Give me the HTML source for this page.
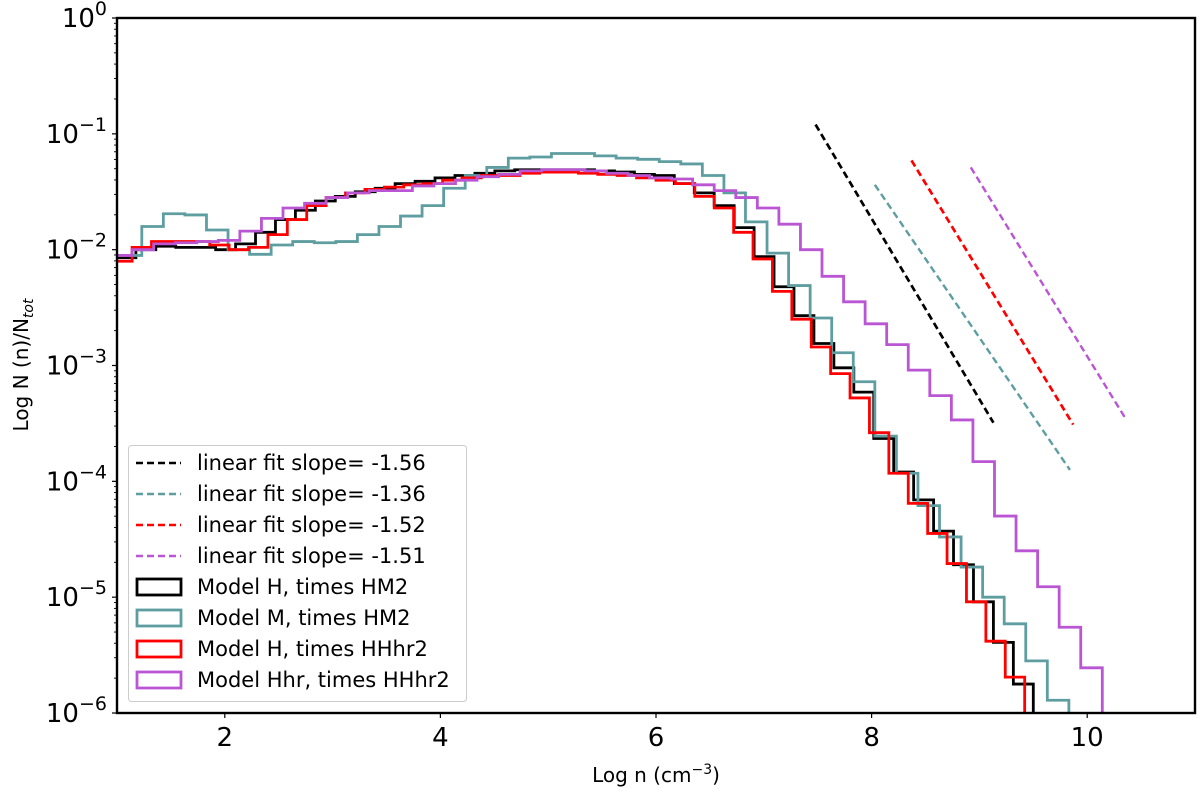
<!DOCTYPE html>
<html><head><meta charset="utf-8"><style>
html,body{margin:0;padding:0;background:#fff;}
svg{display:block;font-family:"DejaVu Sans","Liberation Sans",sans-serif;}
</style></head><body>
<svg id="chart" width="1200" height="789" viewBox="0 0 1200 789" xmlns="http://www.w3.org/2000/svg">
<defs><clipPath id="plotclip"><rect x="117" y="18" width="1078" height="695"/></clipPath></defs>
<rect width="1200" height="789" fill="#fff"/>
<g id="series" clip-path="url(#plotclip)"></g>
<g id="axes"></g>
<g id="legend"></g>
<text x="656" y="782" font-size="20" text-anchor="middle">Log n (cm<tspan dy="-8" font-size="14">−3</tspan><tspan dy="8">)</tspan></text>
<text transform="translate(28,365) rotate(-90)" font-size="20" text-anchor="middle">Log N (n)/N<tspan dy="5" font-size="14" font-style="italic">tot</tspan></text>
</svg>
<script>
// ---- data (log10 of N(n)/Ntot per bin) ----
const seriesNames = ["Model H, times HM2","Model M, times HM2","Model H, times HHhr2","Model Hhr, times HHhr2"];
const seriesColors = ["#000000","#5f9ea0","#ff0000","#ba55d3"];
const binStart = [0.99, 0.83, 0.96, 0.94];
const binWidth = [0.185, 0.2, 0.18, 0.2];
const logBlack = [-2.07,-2.00,-1.97,-1.98,-1.98,-2.00,-1.95,-1.85,-1.74,-1.66,-1.58,-1.54,-1.50,-1.47,-1.43,-1.41,-1.38,-1.36,-1.34,-1.32,-1.31,-1.31,-1.31,-1.31,-1.32,-1.33,-1.35,-1.36,-1.43,-1.51,-1.62,-1.81,-2.06,-2.32,-2.57,-2.81,-3.02,-3.23,-3.63,-3.92,-4.16,-4.43,-4.72,-5.04,-5.39,-5.75];
const logTeal = [-2.05,-2.05,-1.80,-1.69,-1.70,-1.83,-2.00,-2.04,-1.96,-1.93,-1.94,-1.93,-1.87,-1.80,-1.71,-1.62,-1.47,-1.36,-1.29,-1.21,-1.20,-1.17,-1.17,-1.19,-1.21,-1.22,-1.24,-1.26,-1.36,-1.51,-1.76,-2.03,-2.31,-2.59,-2.89,-3.14,-3.61,-3.93,-4.21,-4.48,-4.74,-5.00,-5.23,-5.55,-5.89];
const logRed = [-2.10,-1.98,-1.93,-1.93,-1.93,-1.96,-2.00,-1.98,-1.87,-1.74,-1.62,-1.55,-1.51,-1.48,-1.46,-1.44,-1.43,-1.40,-1.38,-1.36,-1.36,-1.34,-1.33,-1.33,-1.34,-1.35,-1.36,-1.38,-1.40,-1.43,-1.54,-1.64,-1.85,-2.08,-2.36,-2.60,-2.84,-3.07,-3.28,-3.58,-3.93,-4.19,-4.45,-4.71,-5.04,-5.38,-5.69];
const logPurple = [-2.05,-2.00,-1.95,-1.94,-1.93,-1.92,-1.84,-1.73,-1.64,-1.60,-1.55,-1.51,-1.49,-1.49,-1.45,-1.43,-1.40,-1.37,-1.35,-1.32,-1.31,-1.31,-1.32,-1.34,-1.36,-1.38,-1.39,-1.44,-1.49,-1.55,-1.64,-1.78,-2.00,-2.23,-2.45,-2.64,-2.82,-3.04,-3.26,-3.47,-3.83,-4.30,-4.60,-4.91,-5.26,-5.61];
// fits: start x, end x, log value at start, slope
const fitSlopes = [-1.56,-1.36,-1.52,-1.51];
const fitXStart = [7.48, 8.03, 8.37, 8.92];
const fitXEnd = [9.13, 9.84, 9.87, 10.36];
const fitLogStart = [-0.92, -1.44, -1.23, -1.29];
const xTicks = [2,4,6,8,10];
const yTickExps = [0,-1,-2,-3,-4,-5,-6];

// ---- axes ----
const L=117,R=1195,T=18,B=713;
const xMin=1,xMax=11,yMin=-6,yMax=0;
function xs(v){return L+(v-xMin)/(xMax-xMin)*(R-L);}
function ys(lv){return T+(yMax-lv)/(yMax-yMin)*(B-T);}
const NS="http://www.w3.org/2000/svg";
function mk(tag,attrs,parent){const e=document.createElementNS(NS,tag);for(const k in attrs)e.setAttribute(k,attrs[k]);parent.appendChild(e);return e;}
const gS=document.getElementById('series'),gA=document.getElementById('axes'),gL=document.getElementById('legend');

const allLogs=[logBlack,logTeal,logRed,logPurple];
const stepKeys=['black','teal','red','purple'];
allLogs.forEach((arr,si)=>{
  let d='M'+xs(binStart[si])+','+B;
  arr.forEach((lv,i)=>{
    const x0=xs(binStart[si]+i*binWidth[si]),x1=xs(binStart[si]+(i+1)*binWidth[si]);
    d+=' L'+x0+','+ys(lv)+' L'+x1+','+ys(lv);
  });
  d+=' L'+xs(binStart[si]+arr.length*binWidth[si])+','+B;
  const p=mk('path',{d:d,fill:'none',stroke:seriesColors[si],'stroke-width':2.8,'stroke-linejoin':'miter'},gS);
  
  
});
fitSlopes.forEach((s,i)=>{
  const y0=fitLogStart[i],y1=fitLogStart[i]+s*(fitXEnd[i]-fitXStart[i]);
  const l=mk('line',{x1:xs(fitXStart[i]),y1:ys(y0),x2:xs(fitXEnd[i]),y2:ys(y1),stroke:seriesColors[i],'stroke-width':(i==0||i==2)?2.7:2.4,'stroke-dasharray':'7,4'},gS);
  
  
});

// frame
const fr=mk('rect',{x:L,y:T,width:R-L,height:B-T,fill:'none',stroke:'#000','stroke-width':2.4},gA);


xTicks.forEach(v=>{
  const t=mk('line',{x1:xs(v),x2:xs(v),y1:B,y2:B+5,stroke:'#000','stroke-width':1.2},gA);
  
  
  const tx=mk('text',{x:xs(v),y:B+33,'font-size':26,'text-anchor':'middle'},gA);
  tx.textContent=v;
  
  
});
yTickExps.forEach(e=>{
  const y=ys(e);
  const t=mk('line',{x1:L-5,x2:L,y1:y,y2:y,stroke:'#000','stroke-width':1.2},gA);
  
  
  const tx=mk('text',{x:L-10,y:y+9,'font-size':26,'text-anchor':'end'},gA);
  tx.innerHTML='10<tspan dy="-12" font-size="19">'+(e===0?'0':'−'+(-e))+'</tspan>';
  
  
  if(e>yMin){for(let m=2;m<10;m++){const ym=ys(e-1+Math.log10(m));
    const mt=mk('line',{x1:L-3,x2:L,y1:ym,y2:ym,stroke:'#000','stroke-width':0.9},gA);
    
    }}
});

// legend
const lb=mk('rect',{x:128.5,y:445.5,width:338,height:256,rx:3,fill:'#fff','fill-opacity':0.85,stroke:'#ccc','stroke-width':1},gL);


const rowsY=[463,494,525,556,587,618,649,680];
fitSlopes.forEach((s,i)=>{
  const y=rowsY[i];
  const l=mk('line',{x1:136,x2:181,y1:y,y2:y,stroke:seriesColors[i],'stroke-width':2.6,'stroke-dasharray':'7,4'},gL);
  
  
  const t=mk('text',{x:197,y:y+7,'font-size':21},gL);
  t.textContent='linear fit slope= '+s.toFixed(2);
  
  
});
seriesNames.forEach((n,i)=>{
  const y=rowsY[4+i];
  const r=mk('rect',{x:137,y:y-8,width:44,height:16,fill:'none',stroke:seriesColors[i],'stroke-width':2.8},gL);
  
  
  const t=mk('text',{x:197,y:y+7,'font-size':21},gL);
  t.textContent=n;
  
  
});
</script>
</body></html>
